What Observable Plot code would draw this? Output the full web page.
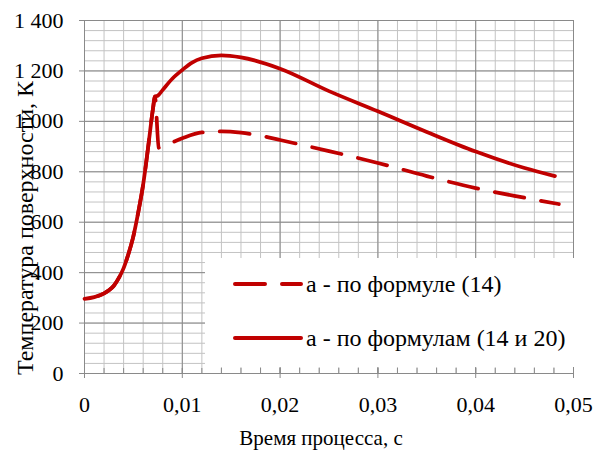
<!DOCTYPE html>
<html>
<head>
<meta charset="utf-8">
<script src="https://cdn.jsdelivr.net/npm/d3@7"></script>
<script src="https://cdn.jsdelivr.net/npm/@observablehq/plot@0.6"></script>
<style>
  html, body { margin: 0; padding: 0; background: #fff; }
  #chart { position: relative; width: 606px; height: 450px; }
  #chart, #chart text, #legend span { font-family: "Liberation Serif", "Times New Roman", Tinos, "DejaVu Serif", serif !important; }
  #legend { position: absolute; left: 205px; top: 258px; width: 370px; height: 109px; background: #fff; }
  #legend .row { position: absolute; left: 0; height: 26px; display: flex; align-items: center; font-size: 24px; color: #000; white-space: nowrap; }
  #legend svg { display: block; margin-left: 28px; margin-right: 3px; }
</style>
</head>
<body>
<div id="chart"></div>
<script>
// Surface temperature vs. process time, two calculation variants
const labelFormula14 = "а - по формуле (14)";
const labelFormula1420 = "а - по формулам (14 и 20)";

// common heating stage (both variants)
const timeRise = [0, 0.001, 0.002, 0.0025, 0.003, 0.0035, 0.004, 0.0045, 0.005, 0.0055, 0.006, 0.0065, 0.007, 0.0072];
const tempRise = [296, 303, 318, 330, 348, 378, 418, 475, 545, 640, 750, 895, 1050, 1098];

// formula (14)
const time14 = [0.0076, 0.0088, 0.01, 0.012, 0.014, 0.016, 0.018, 0.02, 0.025, 0.03, 0.035, 0.04, 0.045, 0.0485];
const temp14 = [895, 914, 933, 956, 960, 955, 943, 926, 882, 835, 783, 735, 697, 672];

// formulas (14 and 20)
const time1420 = [0.0075, 0.008, 0.009, 0.01, 0.011, 0.012, 0.014, 0.016, 0.02, 0.025, 0.03, 0.035, 0.04, 0.045, 0.0481];
const temp1420 = [1102, 1125, 1170, 1204, 1233, 1250, 1262, 1254, 1209, 1120, 1040, 958, 880, 815, 783];

// axes
const xMajor = [0, 0.01, 0.02, 0.03, 0.04, 0.05];
const xMinor = d3.range(0, 26).map(i => i * 0.002);
const yMajor = [0, 200, 400, 600, 800, 1000, 1200, 1400];
const yMinor = d3.range(0, 36).map(i => i * 40);

const red = "#c00000";
const minorGrid = "#c3c3c3";
const majorGrid = "#8a8a8a";
const serif = "'Liberation Serif', 'Times New Roman', Tinos, 'DejaVu Serif', serif";

const toPoints = (xs, ys) => xs.map((x, i) => ({x, y: ys[i]}));
const series14 = toPoints(timeRise.concat(time14), tempRise.concat(temp14));
const series1420 = toPoints(timeRise.concat(time1420), tempRise.concat(temp1420));

const fmtX = d => d === 0 ? "0" : d3.format(".2f")(d).replace(".", ",");
const fmtY = d => d3.format(",")(d).replace(/,/g, " ");

const margin = {top: 20, right: 33, bottom: 77, left: 84};
const W = 606, H = 450;
const innerH = H - margin.top - margin.bottom;
const innerW = W - margin.left - margin.right;

const plot = Plot.plot({
  width: W,
  height: H,
  marginTop: margin.top,
  marginRight: margin.right,
  marginBottom: margin.bottom,
  marginLeft: margin.left,
  style: {fontFamily: serif, fontSize: "22px", background: "#fff", overflow: "visible"},
  x: {domain: [0, 0.05], axis: null},
  y: {domain: [0, 1400], axis: null},
  marks: [
    // grid
    Plot.ruleX(xMinor, {stroke: minorGrid, strokeWidth: 1, strokeOpacity: 1}),
    Plot.ruleY(yMinor, {stroke: minorGrid, strokeWidth: 1, strokeOpacity: 1}),
    Plot.ruleX(xMajor, {stroke: majorGrid, strokeWidth: 1, strokeOpacity: 1}),
    Plot.ruleY(yMajor, {stroke: majorGrid, strokeWidth: 1, strokeOpacity: 1}),
    // curves
    Plot.line(series14, {x: "x", y: "y", stroke: red, strokeWidth: 3.75, curve: "monotone-x",
      strokeDasharray: "30,17", strokeDashoffset: -14, strokeLinecap: "round"}),
    Plot.line(series1420, {x: "x", y: "y", stroke: red, strokeWidth: 3.75, curve: "monotone-x", strokeLinecap: "round"}),
    // tick labels
    Plot.text(yMajor, {x: 0, y: d => d, text: fmtY, textAnchor: "end", dx: -21, fill: "#000", fontFamily: serif, fontSize: 22}),
    Plot.text(xMajor, {x: d => d, y: 0, text: fmtX, dy: 31, fill: "#000", fontFamily: serif, fontSize: 22}),
    // axis titles
    Plot.text(["Время процесса, с"], {frameAnchor: "bottom", lineAnchor: "middle", textAnchor: "middle", dy: 65, dx: -8, fill: "#000", fontFamily: serif, fontSize: 21}),
    Plot.text(["Температура поверхности, К"], {frameAnchor: "left", textAnchor: "middle", lineAnchor: "middle", rotate: -90, dx: -59, dy: 31, fill: "#000", fontFamily: serif, fontSize: 24})
  ]
});

const chart = document.getElementById("chart");
chart.appendChild(plot);

// legend inside the plot area
const legend = document.createElement("div");
legend.id = "legend";
const rows = [
  {label: labelFormula14, dash: "30,17", top: 13},
  {label: labelFormula1420, dash: null, top: 67}
];
for (const r of rows) {
  const row = document.createElement("div");
  row.className = "row";
  row.style.top = r.top + "px";
  const sw = d3.create("svg").attr("width", 70).attr("height", 10);
  sw.append("line").attr("x1", 2).attr("x2", 68).attr("y1", 5).attr("y2", 5)
    .attr("stroke", red).attr("stroke-width", 4).attr("stroke-linecap", "round")
    .attr("stroke-dasharray", r.dash);
  row.appendChild(sw.node());
  const t = document.createElement("span");
  t.textContent = r.label;
  row.appendChild(t);
  legend.appendChild(row);
}
chart.appendChild(legend);

// axis ticks drawn over the legend box
const ticks = Plot.plot({
  width: W, height: H,
  marginTop: margin.top, marginRight: margin.right, marginBottom: margin.bottom, marginLeft: margin.left,
  style: {background: "transparent", overflow: "visible"},
  x: {domain: [0, 0.05], axis: null},
  y: {domain: [0, 1400], axis: null},
  marks: [
    Plot.ruleX(xMinor, {stroke: majorGrid, insetTop: innerH - 5}),
    Plot.ruleX(xMajor, {stroke: majorGrid, insetTop: innerH - 5, insetBottom: -5}),
    Plot.ruleY(yMajor, {stroke: majorGrid, insetLeft: -5, insetRight: innerW}),
    Plot.ruleY([0], {stroke: majorGrid}),
    Plot.ruleX([0.05], {stroke: majorGrid, insetBottom: 0, insetTop: innerH - 5})
  ]
});
ticks.style.position = "absolute";
ticks.style.left = "0";
ticks.style.top = "0";
ticks.style.pointerEvents = "none";
chart.appendChild(ticks);
</script>
</body>
</html>
